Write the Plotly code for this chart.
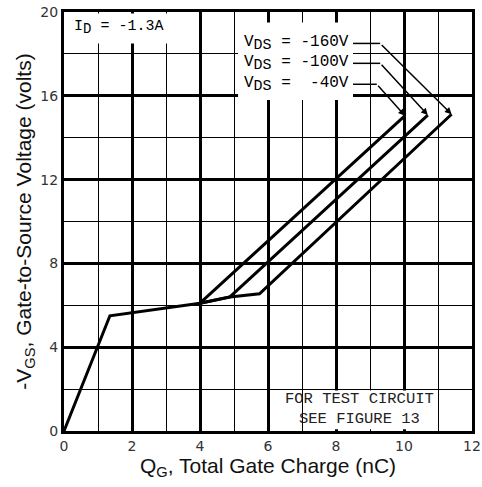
import plotly.graph_objects as go

# Data
qg_common = [0.0, 1.35, 4.0]
vgs_common = [0.0, 5.5, 6.1]

qg_40 = [4.0, 10.03]
vgs_40 = [6.1, 15.05]

qg_100 = [4.0, 4.88, 10.7]
vgs_100 = [6.1, 6.4, 15.08]

qg_160 = [4.0, 4.88, 5.75, 11.4]
vgs_160 = [6.1, 6.4, 6.55, 15.12]

x_ticks = [0, 2, 4, 6, 8, 10, 12]
y_ticks = [0, 4, 8, 12, 16, 20]

sub = "<sub><span style='font-size:15px'>DS</span></sub>"
labels = ["V" + sub + " = -160V", "V" + sub + " = -100V", "V" + sub + " =  -40V"]

fig = go.Figure()
line = dict(color="black", width=3)
for xs, ys in [(qg_common, vgs_common), (qg_40, vgs_40), (qg_100, vgs_100), (qg_160, vgs_160)]:
    fig.add_trace(go.Scatter(x=xs, y=ys, mode="lines", line=line, showlegend=False, hoverinfo="skip"))

mono = "Liberation Mono, DejaVu Sans Mono, monospace"

# white label boxes that interrupt the grid
for x0, x1, y0, y1 in [(0.05, 3.92, 18.5, 19.93), (5.12, 8.5, 15.8, 19.5), (7.08, 10.92, 0.08, 1.93)]:
    fig.add_shape(type="rect", x0=x0, x1=x1, y0=y0, y1=y1, xref="x", yref="y",
                  fillcolor="white", line=dict(width=0), layer="above")

# leader lines: label end -> bend -> curve end
label_y = [18.5, 17.55, 16.55]
bend_x = [9.3, 9.3, 9.2]
ends = [(qg_160[-1], vgs_160[-1]), (qg_100[-1], vgs_100[-1]), (qg_40[-1], vgs_40[-1])]
for lab, ly, bx, (ex, ey) in zip(labels, label_y, bend_x, ends):
    fig.add_trace(go.Scatter(x=[8.5, bx], y=[ly, ly], mode="lines",
                             line=dict(color="black", width=1.5), showlegend=False, hoverinfo="skip"))
    fig.add_annotation(x=ex, y=ey, ax=bx, ay=ly, xref="x", yref="y", axref="x", ayref="y",
                       showarrow=True, arrowhead=2, arrowsize=0.9, arrowwidth=1.5, arrowcolor="black",
                       text="", standoff=0)
    fig.add_annotation(x=8.45, y=ly, xref="x", yref="y", text=lab, showarrow=False,
                       xanchor="right", yanchor="middle",
                       font=dict(family=mono, size=16, color="black"))

fig.add_annotation(x=0.24, y=19.25, xref="x", yref="y",
                   text="I<sub><span style='font-size:14px'>D</span></sub> = -1.3A", showarrow=False,
                   xanchor="left", yanchor="middle",
                   font=dict(family=mono, size=15, color="black"))
fig.add_annotation(x=8.68, y=1.05, xref="x", yref="y", text="FOR TEST CIRCUIT<br>SEE FIGURE 13",
                   showarrow=False, xanchor="center", yanchor="middle",
                   font=dict(family=mono, size=15.5, color="#222"))

tickfont = dict(family="DejaVu Sans, Liberation Sans", size=14, color="#333")
axis_common = dict(showline=True, linewidth=3, linecolor="black", mirror=True,
                   showgrid=True, gridcolor="black", gridwidth=2.8, zeroline=False,
                   ticks="", tickfont=tickfont, automargin=False)

titlefont = dict(family="Liberation Sans, Arial", size=21, color="#111")
fig.update_xaxes(range=[0, 12], tickvals=x_ticks,
                 minor=dict(dtick=1, showgrid=True, gridcolor="black", gridwidth=1.3),
                 title=dict(text="Q<sub>G</sub>, Total Gate Charge (nC)", font=titlefont, standoff=6),
                 **axis_common)
fig.update_yaxes(range=[0, 20], tickvals=y_ticks,
                 minor=dict(dtick=2, showgrid=True, gridcolor="black", gridwidth=1.3),
                 title=dict(text="-V<sub>GS</sub>, Gate-to-Source Voltage (volts)", font=titlefont, standoff=4),
                 **axis_common)

fig.update_layout(width=482, height=487, margin=dict(l=64, r=10, t=12, b=56),
                  plot_bgcolor="white", paper_bgcolor="white")

# remove the default page margin so the figure fills the window exactly
fig.write_html("out.html", config={"displayModeBar": False},
               post_script="document.body.style.margin='0';")
